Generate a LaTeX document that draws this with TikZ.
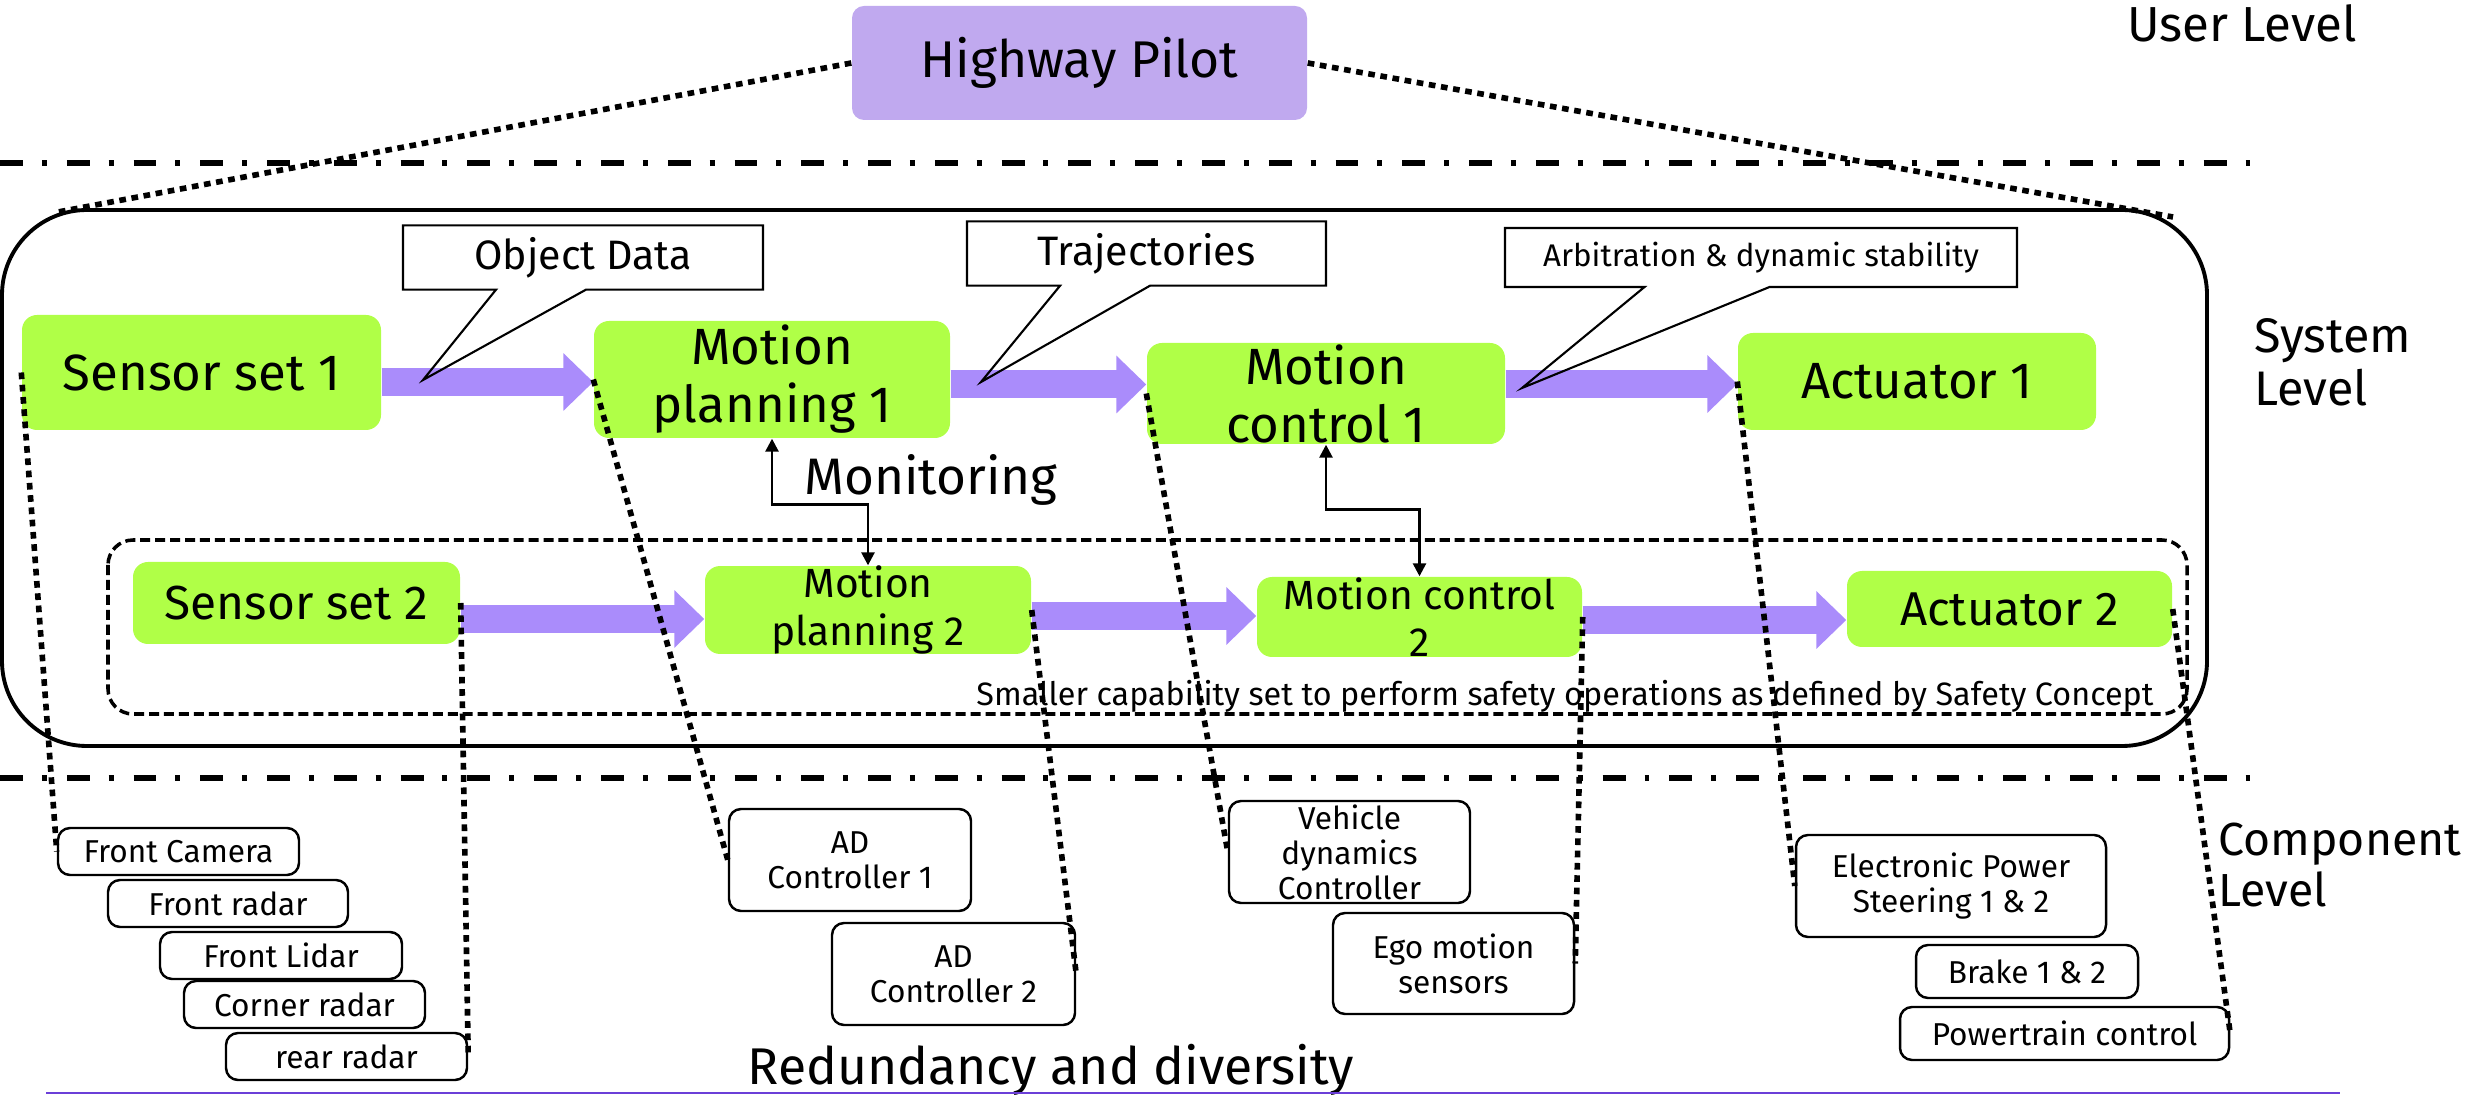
\documentclass[tikz,border=0pt]{standalone}
\usepackage{fontspec}
\setmainfont{Fira Sans}
\usepackage{xcolor}
\usepackage{tikz}
\usetikzlibrary{shapes}
\usetikzlibrary{shapes.callouts}
\usetikzlibrary{arrows.meta}
\definecolor{greenbox}{HTML}{B0FF47}
\definecolor{pilotbox}{HTML}{C0A9EF}
\definecolor{flowpurple}{HTML}{AA8CFB}
\definecolor{rulepurple}{HTML}{6B3FD8}
\tikzset{
	green node/.style={rectangle,rounded corners=0.15cm,fill=greenbox,align=center,inner sep=0pt},
	top node/.style={green node,font=\fontsize{14.5}{16.5}\selectfont},
	low node/.style={green node,font=\fontsize{11.6}{13.5}\selectfont},
	comp node/.style={rectangle,rounded corners=0.12cm,draw,line width=0.7pt,align=center,
		inner sep=0pt,font=\fontsize{9}{10}\selectfont},
	flow arrow/.style={draw=flowpurple,line width=0.28cm,-{Triangle[length=0.3cm,width=0.56cm]}},
	note/.style={rectangle callout,draw,line width=0.6pt,callout pointer width=0.9cm,
		minimum height=0.59cm,font=\fontsize{11.7}{13}\selectfont},
	link/.style={line width=1.6pt,dash pattern=on 1.9pt off 1.6pt},
	level line/.style={line width=1.9pt,dash pattern=on 6.5pt off 5.4pt on 1.4pt off 5.7pt},
	monitor/.style={line width=0.75pt,{Triangle[length=0.13cm,width=0.13cm]}-{Triangle[length=0.13cm,width=0.13cm]}}
}

\begin{document}
\begin{tikzpicture}
	\useasboundingbox (0,0) rectangle (24.68,-10.95);
	% levels
	\draw[level line] (0,-1.63) -- (22.56,-1.63);
	\draw[level line] (0,-7.78) -- (22.56,-7.78);
	\node[font=\fontsize{14}{16}\selectfont] (ul) at (22.42,-0.23) {User Level};
	\node[font=\fontsize{13.8}{15}\selectfont,align=left,anchor=west] (sl) at (22.42,-3.62) {System\\Level};
	\node[font=\fontsize{13.2}{14.5}\selectfont,align=left,anchor=west] (cl) at (22.06,-8.65) {Component\\Level};
	
	\node[rectangle,rounded corners=0.12cm,fill=pilotbox,minimum width=4.55cm,minimum height=1.14cm,
		font=\fontsize{14.7}{16}\selectfont] (hp) at (10.795,-0.63) {Highway Pilot};
	
	\draw[line width=1.1pt,rounded corners=0.85cm] (0.02,-2.10) rectangle (22.07,-7.46);
	\draw[line width=1pt,dash pattern=on 2.85pt off 1.4pt,rounded corners=0.25cm] (1.08,-5.40) rectangle (21.87,-7.14);
	\coordinate (sysnw) at (0.58,-2.12);
	\coordinate (sysne) at (21.73,-2.17);
	
	% main channel
	\node[top node,minimum width=3.59cm,minimum height=1.15cm] (ss1) at (2.015,-3.725) {Sensor set 1};
	\node[top node,minimum width=3.56cm,minimum height=1.17cm] (mp1) at (7.72,-3.795) {Motion\\planning 1};
	\node[top node,minimum width=3.58cm,minimum height=1.01cm] (mc1) at (13.26,-3.935) {Motion\\control 1};
	\node[top node,minimum width=3.58cm,minimum height=0.97cm] (act1) at (19.17,-3.815) {Actuator 1};
	% fallback channel
	\node[green node,font=\fontsize{13.6}{15}\selectfont,minimum width=3.27cm,minimum height=0.82cm] (ss2) at (2.965,-6.03) {Sensor set 2};
	\node[low node,minimum width=3.26cm,minimum height=0.82cm] (mp2) at (8.68,-6.10) {Motion\\planning 2};
	\node[low node,minimum width=3.25cm,minimum height=0.80cm] (mc2) at (14.195,-6.17) {Motion control\\2};
	\node[green node,font=\fontsize{13.5}{15}\selectfont,minimum width=3.25cm,minimum height=0.76cm] (act2) at (20.095,-6.09) {Actuator 2};
	
	\draw[flow arrow] ([yshift=-0.95mm]ss1.east) -- ([yshift=-0.95mm]ss1.east -| mp1.west);
	\draw[flow arrow] ([yshift=-0.5mm]mp1.east) -- ([yshift=-0.5mm]mp1.east -| mc1.west);
	\draw[flow arrow] ([yshift=0.95mm]mc1.east) -- ([yshift=0.95mm]mc1.east -| act1.west);
	\draw[flow arrow] ([yshift=-1.6mm]ss2.east) -- ([yshift=-1.6mm]ss2.east -| mp2.west);
	\draw[flow arrow] ([yshift=-0.6mm]mp2.east) -- ([yshift=-0.6mm]mp2.east -| mc2.west);
	\draw[flow arrow] ([yshift=-0.3mm]mc2.east) -- ([yshift=-0.3mm]mc2.east -| act2.west);
	
	\coordinate (t1) at (4.23,-3.80);
	\coordinate (t2) at (9.81,-3.82);
	\coordinate (t3) at (15.22,-3.88);
	\node[note,minimum width=3.60cm,callout absolute pointer={(t1)}] (od) at (5.83,-2.575) {Object Data};
	\node[note,minimum width=3.59cm,callout absolute pointer={(t2)}] (tr) at (11.465,-2.535) {Trajectories};
	\node[note,minimum width=5.12cm,callout pointer width=1.25cm,callout absolute pointer={(t3)},
		font=\fontsize{8.9}{10}\selectfont] (ar) at (17.61,-2.575) {Arbitration \& dynamic stability};
	
	\draw[monitor] (mp1.south) -- ++(0,-0.66) -| (mp2.north);
	\draw[monitor] (mc1.south) -- ++(0,-0.65) -| (mc2.north);
	\node[font=\fontsize{14.6}{16}\selectfont] (mon) at (9.31,-4.80) {Monitoring};
	\node[font=\fontsize{9.2}{10}\selectfont] (cap) at (15.65,-6.96) {Smaller capability set to perform safety operations as defined by Safety Concept};
	
	% components
	\node[comp node,minimum width=2.41cm,minimum height=0.47cm] (fcam) at (1.785,-8.515) {Front Camera};
	\node[comp node,minimum width=2.40cm,minimum height=0.47cm] (frad) at (2.28,-9.035) {Front radar};
	\node[comp node,minimum width=2.42cm,minimum height=0.47cm] (flid) at (2.81,-9.555) {Front Lidar};
	\node[comp node,minimum width=2.41cm,minimum height=0.47cm] (crad) at (3.045,-10.045) {Corner radar};
	\node[comp node,minimum width=2.41cm,minimum height=0.47cm] (rrad) at (3.465,-10.565) {rear radar};
	\node[comp node,minimum width=2.42cm,minimum height=1.02cm] (adc1) at (8.50,-8.60) {AD\\Controller 1};
	\node[comp node,minimum width=2.43cm,minimum height=1.02cm] (adc2) at (9.535,-9.74) {AD\\Controller 2};
	\node[comp node,minimum width=2.41cm,minimum height=1.02cm] (vdc) at (13.495,-8.52) {Vehicle\\dynamics\\Controller};
	\node[comp node,minimum width=2.41cm,minimum height=1.01cm] (ego) at (14.535,-9.635) {Ego motion\\sensors};
	\node[comp node,minimum width=3.10cm,minimum height=1.02cm] (eps) at (19.51,-8.86) {Electronic Power\\Steering 1 \& 2};
	\node[comp node,minimum width=2.22cm,minimum height=0.53cm] (brk) at (20.27,-9.715) {Brake 1 \& 2};
	\node[comp node,minimum width=3.29cm,minimum height=0.53cm] (ptc) at (20.645,-10.335) {Powertrain control};
	
	\node[font=\fontsize{14.7}{16}\selectfont] (red) at (10.51,-10.70) {Redundancy and diversity};
	\draw[rulepurple,line width=0.6pt] (0.46,-10.93) -- (23.40,-10.93);
	
	% dotted links
	\draw[link] (hp.west) -- (sysnw);
	\draw[link] (hp.east) -- (sysne);
	\draw[link] (ss1.west) -- (fcam.west);
	\draw[link] (ss2.east) -- (rrad.east);
	\draw[link] (mp1.west) -- (adc1.west);
	\draw[link] (mp2.east) -- (adc2.east);
	\draw[link] (mc1.west) -- (vdc.west);
	\draw[link] (mc2.east) -- (ego.east);
	\draw[link] (act1.west) -- (eps.west);
	\draw[link] (act2.east) -- (ptc.east);
\end{tikzpicture}
\end{document}
